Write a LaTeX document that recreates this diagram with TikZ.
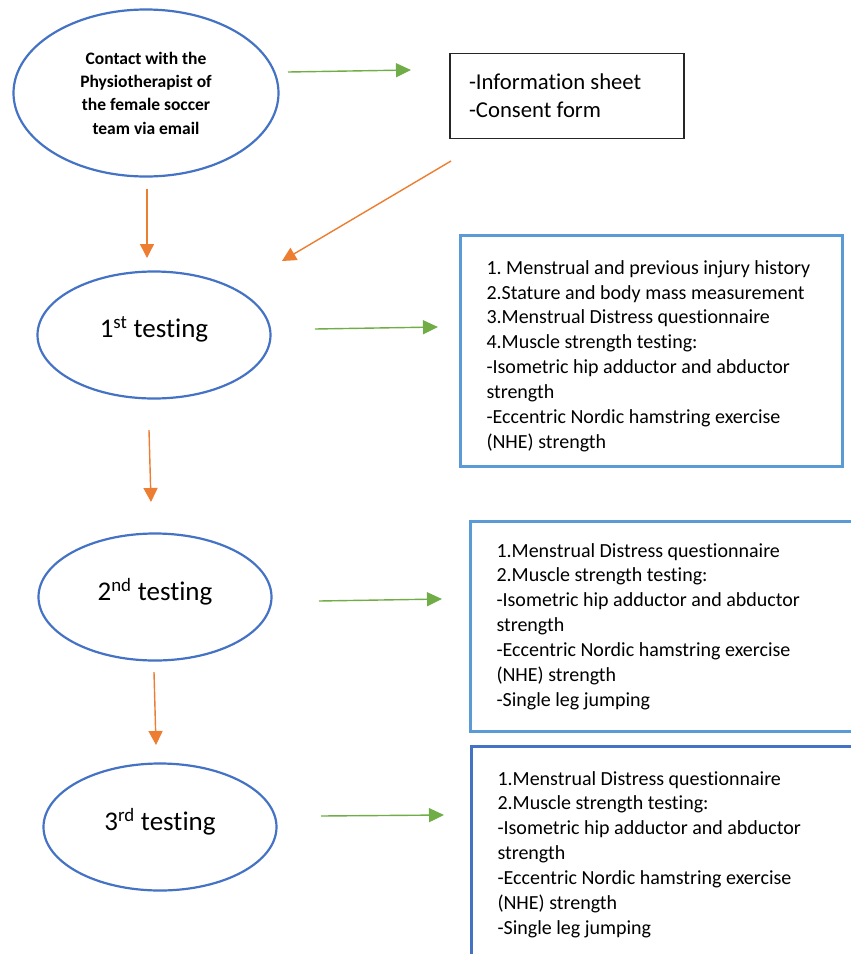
\documentclass[tikz,border=0pt]{standalone}
\usepackage{fontspec}
\setmainfont{Carlito}[Ligatures={NoCommon}]
\usetikzlibrary{arrows.meta,positioning,shapes.geometric}
\definecolor{ovalblue}{RGB}{68,114,196}
\definecolor{boxblue}{RGB}{91,155,213}
\definecolor{arrgreen}{RGB}{112,173,71}
\definecolor{arrorange}{RGB}{237,125,49}
\definecolor{boxgrey}{RGB}{38,38,38}
\frenchspacing

\begin{document}
\begin{tikzpicture}[x=1pt, y=-1pt,
  oval/.style={ellipse, draw=ovalblue, line width=2.2pt, inner sep=0pt,
               minimum width=233pt, minimum height=127pt, text depth=16pt,
               font=\fontsize{27}{32}\selectfont},
  listbox/.style={draw=boxblue, line width=3pt, anchor=north west,
                  text width=330pt, align=flush left, inner xsep=26pt,
                  font=\fontsize{20}{24.9}\selectfont},
  garr/.style={-{Triangle[length=15pt, width=14pt]}, arrgreen, line width=1.4pt},
  oarr/.style={-{Triangle[length=14pt, width=14pt]}, arrorange, line width=1.4pt},
]
\useasboundingbox (0,0) rectangle (851,954);

\node[oval, minimum width=265pt, minimum height=167pt, align=center,
      text depth=, font=\bfseries\fontsize{17.5}{23.3}\selectfont] (contact) at (146,93)
  {Contact with the\\Physiotherapist of\\the female soccer\\team via email};
\node[draw=boxgrey, line width=1.3pt, minimum width=234pt, minimum height=85pt,
      text width=196pt, inner xsep=19pt, align=flush left,
      font=\fontsize{22.7}{27.7}\selectfont] (info) at (567,96)
  {-Information sheet\\-Consent form};

\node[oval] (test1) at (154,335) {1\textsuperscript{st} testing};
\node[oval] (test2) at (155,597) {2\textsuperscript{nd} testing};
\node[oval] (test3) at (160,827) {3\textsuperscript{rd} testing};

\node[listbox, minimum height=231pt, text height=24pt] (list1) at (459,234)
  {1. Menstrual and previous injury history\\
   2.Stature and body mass measurement\\
   3.Menstrual Distress questionnaire\\
   4.Muscle strength testing:\\
   -Isometric hip adductor and abductor\\strength\\
   -Eccentric Nordic hamstring exercise\\(NHE) strength};
\node[listbox, minimum height=210pt] (list2) at (469,520)
  {1.Menstrual Distress questionnaire\\
   2.Muscle strength testing:\\
   -Isometric hip adductor and abductor\\strength\\
   -Eccentric Nordic hamstring exercise\\(NHE) strength\\
   -Single leg jumping};
\node[listbox, draw=ovalblue, minimum height=216pt] (list3) at (470,745)
  {1.Menstrual Distress questionnaire\\
   2.Muscle strength testing:\\
   -Isometric hip adductor and abductor\\strength\\
   -Eccentric Nordic hamstring exercise\\(NHE) strength\\
   -Single leg jumping};

\coordinate (g1a) at (288,72);  \coordinate (g1b) at (411,70);
\coordinate (g2a) at (315,329); \coordinate (g2b) at (438,327);
\coordinate (g3a) at (319,601); \coordinate (g3b) at (442,599);
\coordinate (g4a) at (321,816); \coordinate (g4b) at (444,815);
\coordinate (o1a) at (147,189); \coordinate (o1b) at (147,258);
\coordinate (o2a) at (451,161); \coordinate (o2b) at (282,261);
\coordinate (o3a) at (149,430); \coordinate (o3b) at (151,502);
\coordinate (o4a) at (154,672); \coordinate (o4b) at (156,745);

\draw[garr] (g1a) -- (g1b);
\draw[garr] (g2a) -- (g2b);
\draw[garr] (g3a) -- (g3b);
\draw[garr] (g4a) -- (g4b);
\draw[oarr] (o1a) -- (o1b);
\draw[oarr] (o2a) -- (o2b);
\draw[oarr] (o3a) -- (o3b);
\draw[oarr] (o4a) -- (o4b);
\end{tikzpicture}
\end{document}
